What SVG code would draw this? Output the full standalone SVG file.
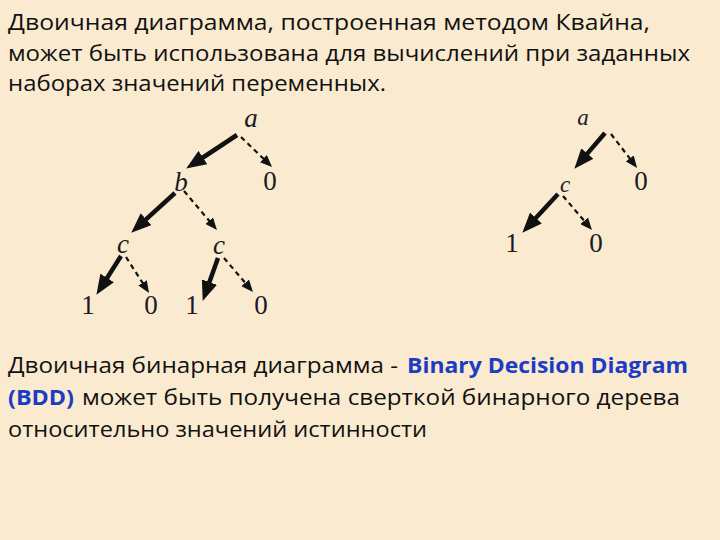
<svg xmlns="http://www.w3.org/2000/svg" width="720" height="540" viewBox="0 0 720 540">
<style>
.t{font-family:"Open Sans","Noto Sans","Liberation Sans",sans-serif;font-size:21px;fill:#111}
.b{font-family:"Open Sans","Noto Sans","Liberation Sans",sans-serif;font-size:21px;font-weight:bold;fill:#1c3cc4}
.v{font-family:"Liberation Serif","Times New Roman",serif;font-style:italic;font-size:27px;fill:#1a1a22;text-anchor:middle}
.vs{font-family:"Liberation Serif","Times New Roman",serif;font-style:italic;font-size:23px;fill:#1a1a22;text-anchor:middle}
.n{font-family:"Liberation Serif","Times New Roman",serif;font-size:27px;fill:#1a1a22;text-anchor:middle}
.s{stroke:#111;stroke-width:4.5;fill:none;marker-end:url(#hs)}
.d{stroke:#111;stroke-width:2.2;stroke-dasharray:5 4;fill:none;marker-end:url(#hd)}
</style>
<defs>
<marker id="hs" markerUnits="userSpaceOnUse" markerWidth="20" markerHeight="16" viewBox="0 0 20 16" refX="9" refY="8" orient="auto"><path d="M0,0 L20,8 L0,16 z" fill="#111"/></marker>
<marker id="hd" markerUnits="userSpaceOnUse" markerWidth="12" markerHeight="10" viewBox="0 0 12 10" refX="6" refY="5" orient="auto"><path d="M0,0 L12,5 L0,10 z" fill="#111"/></marker>
</defs>
<rect width="720" height="540" fill="#faebd0"/>
<text class="t" x="8" y="30" textLength="642" lengthAdjust="spacingAndGlyphs">Двоичная диаграмма, построенная методом Квайна,</text>
<text class="t" x="8" y="61" textLength="682" lengthAdjust="spacingAndGlyphs">может быть использована для вычислений при заданных</text>
<text class="t" x="8" y="91" textLength="378" lengthAdjust="spacingAndGlyphs">наборах значений переменных.</text>
<g id="connectors">
<line class="s" x1="237" y1="135" x2="195.4" y2="162.5"/>
<line class="d" x1="241" y1="137" x2="267.7" y2="162.8"/>
<line class="s" x1="175" y1="193" x2="139.4" y2="225.3"/>
<line class="d" x1="184" y1="191" x2="213.1" y2="225.4"/>
<line class="s" x1="121" y1="256" x2="102.3" y2="285.5"/>
<line class="d" x1="126" y1="257" x2="145.8" y2="287.9"/>
<line class="s" x1="218" y1="258" x2="206.4" y2="290.6"/>
<line class="d" x1="224" y1="258" x2="249.1" y2="287.4"/>
<line class="s" x1="605" y1="133" x2="581.5" y2="160.4"/>
<line class="d" x1="611" y1="134" x2="633.4" y2="163.2"/>
<line class="s" x1="558" y1="194" x2="529.8" y2="224.6"/>
<line class="d" x1="563" y1="196" x2="588.1" y2="225.4"/>
</g>
<g id="L_a"><text class="v" x="251" y="127">a</text></g>
<g id="L_0a"><text class="n" x="270" y="190">0</text></g>
<g id="L_b"><text class="v" x="181" y="191">b</text></g>
<g id="L_c1"><text class="v" x="123" y="253">c</text></g>
<g id="L_c2"><text class="v" x="219" y="254">c</text></g>
<g id="L_1a"><text class="n" x="88" y="314">1</text></g>
<g id="L_0b"><text class="n" x="151" y="314">0</text></g>
<g id="L_1b"><text class="n" x="192" y="314">1</text></g>
<g id="L_0c"><text class="n" x="261" y="314">0</text></g>
<g id="R_a"><text class="vs" x="583" y="125">a</text></g>
<g id="R_0a"><text class="n" x="641" y="190">0</text></g>
<g id="R_c"><text class="vs" x="565" y="192">c</text></g>
<g id="R_1"><text class="n" x="512" y="252">1</text></g>
<g id="R_0b"><text class="n" x="596" y="252">0</text></g>
<text class="t" x="8" y="373" textLength="390" lengthAdjust="spacingAndGlyphs">Двоичная бинарная диаграмма -</text>
<text class="b" x="407" y="373" textLength="281" lengthAdjust="spacingAndGlyphs">Binary Decision Diagram</text>
<text class="b" x="8" y="405" textLength="66" lengthAdjust="spacingAndGlyphs">(BDD)</text>
<text class="t" x="82" y="405" textLength="598" lengthAdjust="spacingAndGlyphs">может быть получена сверткой бинарного дерева</text>
<text class="t" x="8" y="437" textLength="419" lengthAdjust="spacingAndGlyphs">относительно значений истинности</text>
</svg>
